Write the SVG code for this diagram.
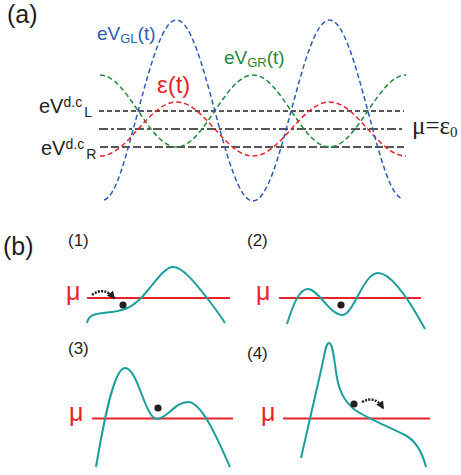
<svg xmlns="http://www.w3.org/2000/svg" width="461" height="475" viewBox="0 0 461 475">
<defs>
<style>
.sans{font-family:"Liberation Sans",Arial,sans-serif;}
.serif{font-family:"Liberation Serif","Times New Roman",serif;}
.blk{fill:#231f20;}
.wave{fill:none;stroke-width:1.5;stroke-dasharray:5 3;}
.lvl{fill:none;stroke:#231f20;stroke-width:1.5;}
.mu{stroke:#e8232a;stroke-width:2;fill:none;}
.pot{stroke:#1b9e9c;stroke-width:2;fill:none;}
.hop{stroke:#231f20;stroke-width:2.5;fill:none;stroke-dasharray:2 1.3;}
.red{fill:#e8232a;}
</style>
<marker id="ah" viewBox="0 0 10 10" refX="8" refY="5" markerWidth="3.2" markerHeight="3.2" orient="auto" markerUnits="strokeWidth">
<path d="M0,0 L10,5 L0,10 z" fill="#231f20"/>
</marker>
</defs>
<rect width="461" height="475" fill="#ffffff"/>

<g id="panel-a">
<text class="sans blk" x="7" y="23" font-size="25">(a)</text>
<g id="levels">
<line class="lvl" x1="99" y1="111" x2="404" y2="111" stroke-dasharray="5 3"/>
<line class="lvl" x1="99" y1="129" x2="404" y2="129" stroke-dasharray="9 3 3 3"/>
<line class="lvl" x1="100" y1="147" x2="404" y2="147" stroke-dasharray="8 3"/>
</g>
<g id="waves">
<path id="vgr" class="wave" stroke="#1f8a3c" d="M100,75 C113.84,75 125.77,92.56 138.25,111 C150.72,129.44 162.66,147 176.5,147 C190.34,147 202.27,129.44 214.75,111 C227.22,92.56 239.16,75 253,75 C266.84,75 278.77,92.56 291.25,111 C303.72,129.44 315.66,147 329.5,147 C343.34,147 355.27,129.44 367.75,111 C380.22,92.56 392.16,75 406,75"/>
<path id="eps" class="wave" stroke="#e8232a" d="M100,156 C113.84,156 125.77,142.83 138.25,129 C150.72,115.17 162.66,102 176.5,102 C190.34,102 202.27,115.17 214.75,129 C227.22,142.83 239.16,156 253,156 C266.84,156 278.77,142.83 291.25,129 C303.72,115.17 315.66,102 329.5,102 C343.34,102 355.27,115.17 367.75,129 C380.22,142.83 392.16,156 406,156"/>
<path id="vgl" class="wave" stroke="#2f5bb5" d="M104,200 C116,197 125.77,156.86 138.25,110.5 C150.72,64.14 162.66,20 176.5,20 C190.34,20 202.27,64.14 214.75,110.5 C227.22,156.86 239.16,201 253,201 C266.84,201 278.77,156.86 291.25,110.5 C303.72,64.14 315.66,20 329.5,20 C343.34,20 355.27,64.14 367.75,110.5 C380.22,156.86 390,196 403,199"/>
</g>
<g id="labels-a">
<text class="sans blk" x="39" y="113" font-size="20">eV<tspan font-size="14" dy="-6">d.c</tspan><tspan font-size="14" dx="2" dy="10">L</tspan></text>
<text class="sans blk" x="41" y="155" font-size="20">eV<tspan font-size="14" dy="-6">d.c</tspan><tspan font-size="14" dx="2" dy="10">R</tspan></text>
<text class="sans" fill="#2f5bb5" x="97" y="40" font-size="19">eV<tspan font-size="13" dy="3">GL</tspan><tspan dy="-3">(t)</tspan></text>
<text class="sans" fill="#1f8a3c" x="224" y="64" font-size="19">eV<tspan font-size="13" dy="3">GR</tspan><tspan dy="-3">(t)</tspan></text>
<text class="sans red" x="157" y="93" font-size="24">ε(t)</text>
<text class="serif blk" x="412" y="134" font-size="25">μ=ε<tspan font-size="15" dy="3">0</tspan></text>
</g>
</g>

<g id="panel-b">
<text class="sans blk" x="3" y="255" font-size="25">(b)</text>

<g id="sub1">
<text class="sans blk" x="68" y="246" font-size="17">(1)</text>
<text class="sans red" x="66" y="300" font-size="25">μ</text>
<line class="mu" x1="87" y1="298" x2="230" y2="298"/>
<path class="pot" d="M87,323 C89,313 97,314 112,312 C127,310 133,306 142,297 C154,284 164,267 173,267 C183,267 196,284 207,298 C214,307 220,315 225,323"/>
<circle cx="123" cy="305" r="3.6" fill="#231f20"/>
<path class="hop" d="M92,295 Q104,286 114,298" marker-end="url(#ah)"/>
</g>

<g id="sub2">
<text class="sans blk" x="247" y="246" font-size="17">(2)</text>
<text class="sans red" x="256" y="300" font-size="25">μ</text>
<line class="mu" x1="279" y1="298" x2="421" y2="298"/>
<path class="pot" d="M287,324 C293,305 299,289 308,289 C318,289 330,315 342,315 C354,315 363,273 378,273 C393,273 412,305 425,329"/>
<circle cx="341" cy="305" r="3.6" fill="#231f20"/>
</g>

<g id="sub3">
<text class="sans blk" x="68" y="354" font-size="17">(3)</text>
<text class="sans red" x="69" y="421" font-size="25">μ</text>
<line class="mu" x1="92" y1="418.5" x2="233" y2="418.5"/>
<path class="pot" d="M96,467 C104,420 114,368 125,368 C138,368 145,419 157,419 C167,419 175,402 188,402 C202,402 218,440 230,467"/>
<circle cx="158" cy="408" r="3.6" fill="#231f20"/>
</g>

<g id="sub4">
<text class="sans blk" x="247" y="359" font-size="17">(4)</text>
<text class="sans red" x="261" y="421" font-size="25">μ</text>
<line class="mu" x1="283" y1="418.5" x2="430" y2="418.5"/>
<path class="pot" d="M301,458 L322,366 C325,352 326,343 329,343 C333,343 334,360 337,378 C340,393 345,402 355,410 C370,420 390,427 405,435 C418,442 423,455 426,467"/>
<circle cx="354" cy="404" r="3.6" fill="#231f20"/>
<path class="hop" d="M362,402 Q375,395 383,408" marker-end="url(#ah)"/>
</g>
</g>
</svg>
